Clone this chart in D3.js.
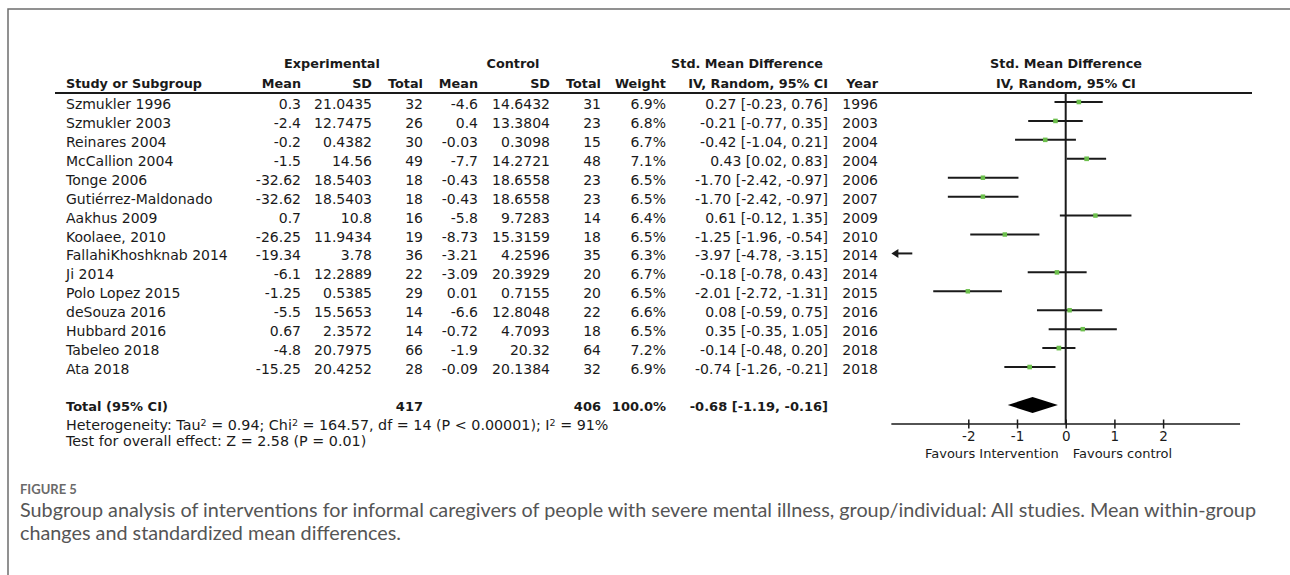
<!DOCTYPE html>
<html>
<head>
<meta charset="utf-8">
<script src="https://cdn.jsdelivr.net/npm/d3@7"></script>
<style>
  html, body { margin: 0; padding: 0; background: #fff; }
  svg { display: block; }
</style>
</head>
<body>
<svg id="chart" width="1290" height="575"></svg>
<script>
// ---- study data ----
const studies = ["Szmukler 1996", "Szmukler 2003", "Reinares 2004", "McCallion 2004", "Tonge 2006",
  "Gutiérrez-Maldonado", "Aakhus 2009", "Koolaee, 2010", "FallahiKhoshknab 2014", "Ji 2014",
  "Polo Lopez 2015", "deSouza 2016", "Hubbard 2016", "Tabeleo 2018", "Ata 2018"];
const expMean = [0.3, -2.4, -0.2, -1.5, -32.62, -32.62, 0.7, -26.25, -19.34, -6.1, -1.25, -5.5, 0.67, -4.8, -15.25];
const expSD = ["21.0435", "12.7475", "0.4382", "14.56", "18.5403", "18.5403", "10.8", "11.9434", "3.78", "12.2889", "0.5385", "15.5653", "2.3572", "20.7975", "20.4252"];
const expN = [32, 26, 30, 49, 18, 18, 16, 19, 36, 22, 29, 14, 14, 66, 28];
const ctlMean = [-4.6, 0.4, -0.03, -7.7, -0.43, -0.43, -5.8, -8.73, -3.21, -3.09, 0.01, -6.6, -0.72, -1.9, -0.09];
const ctlSD = ["14.6432", "13.3804", "0.3098", "14.2721", "18.6558", "18.6558", "9.7283", "15.3159", "4.2596", "20.3929", "0.7155", "12.8048", "4.7093", "20.32", "20.1384"];
const ctlN = [31, 23, 15, 48, 23, 23, 14, 18, 35, 20, 20, 22, 18, 64, 32];
const weights = [6.9, 6.8, 6.7, 7.1, 6.5, 6.5, 6.4, 6.5, 6.3, 6.7, 6.5, 6.6, 6.5, 7.2, 6.9];
const smd = [0.27, -0.21, -0.42, 0.43, -1.70, -1.70, 0.61, -1.25, -3.97, -0.18, -2.01, 0.08, 0.35, -0.14, -0.74];
const ciLow = [-0.23, -0.77, -1.04, 0.02, -2.42, -2.42, -0.12, -1.96, -4.78, -0.78, -2.72, -0.59, -0.35, -0.48, -1.26];
const ciHigh = [0.76, 0.35, 0.21, 0.83, -0.97, -0.97, 1.35, -0.54, -3.15, 0.43, -1.31, 0.75, 1.05, 0.20, -0.21];
const years = [1996, 2003, 2004, 2004, 2006, 2007, 2009, 2010, 2014, 2014, 2015, 2016, 2016, 2018, 2018];

// ---- pooled result ----
const totalExpN = 417;
const totalCtlN = 406;
const totalWeight = 100.0;
const pooled = [-0.68, -1.19, -0.16];   // estimate, lower, upper
const heterogeneity = { tau2: "0.94", chi2: "164.57", df: 14, p: "P < 0.00001", i2: "91%" };
const overall = { z: "2.58", p: "P = 0.01" };

// ---- axis ----
const tickValues = [-2, -1, 0, 1, 2];
const axisExtent = 3.58;
const favourLabels = ["Favours Intervention", "Favours control"];

// ---- layout ----
const svg = d3.select("#chart");
const rowY0 = 104, rowStep = 18.93;
const headerLineY = 93, axisY = 424, totalY = 406;
const bodyFont = "DejaVu Sans, Verdana, sans-serif";
const ink = "#1a1a1a";

const fmtDash = v => (v < 0 ? "-" : "") + Math.abs(v).toFixed(2);
const fmtNum = v => (v < 0 ? "-" : "") + String(Math.abs(v));
const rowY = i => rowY0 + i * rowStep;

// frame
svg.append("path")
  .attr("d", "M8,575 L8,9 L1290,9")
  .attr("fill", "none").attr("stroke", "#6e6e6e").attr("stroke-width", 1.5);

// column right edges
const cols = { label: 66, expMean: 301, expSD: 372, expN: 423, ctlMean: 478, ctlSD: 550, ctlN: 601,
  weight: 666, ci: 828, year: 878 };

// headers
const head = svg.append("g")
  .attr("font-family", bodyFont).attr("font-weight", "bold").attr("font-size", 12.8).attr("fill", ink);
const headTop = 63, headBot = 83;
[["Experimental", 332], ["Control", 513], ["Std. Mean Difference", 747], ["Std. Mean Difference", 1066]]
  .forEach(([t, x]) => head.append("text").attr("x", x).attr("y", headTop).attr("dy", "0.36em")
    .attr("text-anchor", "middle").text(t));
head.append("text").attr("x", cols.label).attr("y", headBot).attr("dy", "0.36em").text("Study or Subgroup");
[["Mean", cols.expMean], ["SD", cols.expSD], ["Total", cols.expN], ["Mean", cols.ctlMean], ["SD", cols.ctlSD],
 ["Total", cols.ctlN], ["Weight", cols.weight], ["IV, Random, 95% CI", cols.ci], ["Year", cols.year]]
  .forEach(([t, x]) => head.append("text").attr("x", x).attr("y", headBot).attr("dy", "0.36em")
    .attr("text-anchor", "end").text(t));
head.append("text").attr("x", 1066).attr("y", headBot).attr("dy", "0.36em")
  .attr("text-anchor", "middle").text("IV, Random, 95% CI");

svg.append("line").attr("x1", 55).attr("x2", 1252).attr("y1", headerLineY).attr("y2", headerLineY)
  .attr("stroke", ink).attr("stroke-width", 2);

// study rows
const body = svg.append("g").attr("font-family", bodyFont).attr("font-size", 14).attr("fill", ink);
studies.forEach((s, i) => {
  const y = rowY(i);
  const cells = [
    [s, cols.label, "start"],
    [fmtNum(expMean[i]), cols.expMean, "end"],
    [expSD[i], cols.expSD, "end"],
    [String(expN[i]), cols.expN, "end"],
    [fmtNum(ctlMean[i]), cols.ctlMean, "end"],
    [ctlSD[i], cols.ctlSD, "end"],
    [String(ctlN[i]), cols.ctlN, "end"],
    [weights[i].toFixed(1) + "%", cols.weight, "end"],
    [`${fmtDash(smd[i])} [${fmtDash(ciLow[i])}, ${fmtDash(ciHigh[i])}]`, cols.ci, "end"],
    [String(years[i]), cols.year, "end"]
  ];
  cells.forEach(([t, x, a]) => body.append("text").attr("x", x).attr("y", y).attr("dy", "0.36em")
    .attr("text-anchor", a).text(t));
});

// total row
const tot = svg.append("g").attr("font-family", bodyFont).attr("font-weight", "bold")
  .attr("font-size", 13).attr("fill", ink);
[["Total (95% CI)", cols.label, "start"], [String(totalExpN), cols.expN, "end"],
 [String(totalCtlN), cols.ctlN, "end"], [totalWeight.toFixed(1) + "%", cols.weight, "end"],
 [`${fmtDash(pooled[0])} [${fmtDash(pooled[1])}, ${fmtDash(pooled[2])}]`, cols.ci, "end"]]
  .forEach(([t, x, a]) => tot.append("text").attr("x", x).attr("y", totalY).attr("dy", "0.36em")
    .attr("text-anchor", a).text(t));

// heterogeneity and overall effect
const notes = svg.append("g").attr("font-family", bodyFont).attr("font-size", 14.3).attr("fill", ink);
const het = notes.append("text").attr("x", cols.label).attr("y", 425).attr("dy", "0.36em");
const sup = (el, t) => el.append("tspan").attr("font-size", 9.5).attr("dy", "-0.45em").text(t);
const back = (el, t) => el.append("tspan").attr("dy", "0.30em").text(t);
het.append("tspan").text("Heterogeneity: Tau");
sup(het, "2");
back(het, ` = ${heterogeneity.tau2}; Chi`);
sup(het, "2");
back(het, ` = ${heterogeneity.chi2}, df = ${heterogeneity.df} (${heterogeneity.p}); I`);
sup(het, "2");
back(het, ` = ${heterogeneity.i2}`);
notes.append("text").attr("x", cols.label).attr("y", 441).attr("dy", "0.36em")
  .text(`Test for overall effect: Z = ${overall.z} (${overall.p})`);

// ---- forest plot ----
const x = d3.scaleLinear().domain([-2, 2]).range([968.3, 1163.1]);
const forest = svg.append("g");
const lo = -axisExtent, hi = axisExtent;

// zero line
forest.append("line").attr("x1", x(0)).attr("x2", x(0)).attr("y1", headerLineY).attr("y2", axisY)
  .attr("stroke", ink).attr("stroke-width", 2);

studies.forEach((s, i) => {
  const y = rowY(i) - 2;
  // confidence interval clipped to the axis range, with arrowheads where it runs off
  const a = Math.max(ciLow[i], lo), b = Math.min(ciHigh[i], hi);
  const clipLeft = ciLow[i] < lo, clipRight = ciHigh[i] > hi;
  forest.append("line")
    .attr("x1", x(a) + (clipLeft ? 4 : 0)).attr("x2", x(b) - (clipRight ? 4 : 0))
    .attr("y1", y).attr("y2", y)
    .attr("stroke", ink).attr("stroke-width", 2);
  if (clipLeft) forest.append("path").attr("d", `M${x(lo)},${y} l7,-4.5 l0,9 Z`).attr("fill", ink);
  if (clipRight) forest.append("path").attr("d", `M${x(hi)},${y} l-7,-4.5 l0,9 Z`).attr("fill", ink);
  if (smd[i] >= lo && smd[i] <= hi) {
    const side = Math.sqrt(weights[i]) * 1.75;
    forest.append("rect").attr("x", x(smd[i]) - side / 2).attr("y", y - side / 2)
      .attr("width", side).attr("height", side).attr("fill", "#6cbf4c");
  }
});

// pooled diamond
forest.append("path")
  .attr("d", `M${x(pooled[1])},${totalY - 1} L${x(pooled[0])},${totalY - 9} L${x(pooled[2])},${totalY - 1} L${x(pooled[0])},${totalY + 7} Z`)
  .attr("fill", "#000");

// axis
forest.append("line").attr("x1", x(lo)).attr("x2", x(hi)).attr("y1", axisY).attr("y2", axisY)
  .attr("stroke", ink).attr("stroke-width", 1.5);
const axis = d3.axisBottom(x).tickValues(tickValues).tickSize(9).tickPadding(3)
  .tickFormat(d => (d < 0 ? "-" : "") + Math.abs(d));
const ag = forest.append("g").attr("transform", `translate(0,${axisY - 4.5})`).call(axis);
ag.select(".domain").remove();
ag.selectAll(".tick line").attr("stroke", ink).attr("stroke-width", 1.5);
ag.selectAll(".tick text").attr("font-family", bodyFont).attr("font-size", 13.5).attr("fill", ink);

forest.append("text").attr("x", x(0) - 7).attr("y", 453).attr("dy", "0.36em").attr("text-anchor", "end")
  .attr("font-family", bodyFont).attr("font-size", 13).attr("fill", ink).text(favourLabels[0]);
forest.append("text").attr("x", x(0) + 7).attr("y", 453).attr("dy", "0.36em").attr("text-anchor", "start")
  .attr("font-family", bodyFont).attr("font-size", 13).attr("fill", ink).text(favourLabels[1]);

// ---- caption ----
const cap = svg.append("g").attr("font-family", "Lato, 'Open Sans', sans-serif");
cap.append("text").attr("x", 20).attr("y", 489).attr("dy", "0.36em")
  .attr("font-size", 13).attr("font-weight", "bold").attr("fill", "#6a6a6a").text("FIGURE 5");
cap.append("text").attr("x", 20).attr("y", 510).attr("dy", "0.36em")
  .attr("font-size", 19.8).attr("fill", "#555")
  .text("Subgroup analysis of interventions for informal caregivers of people with severe mental illness, group/individual: All studies. Mean within-group");
cap.append("text").attr("x", 20).attr("y", 533).attr("dy", "0.36em")
  .attr("font-size", 19.8).attr("fill", "#555")
  .text("changes and standardized mean differences.");
</script>
</body>
</html>
